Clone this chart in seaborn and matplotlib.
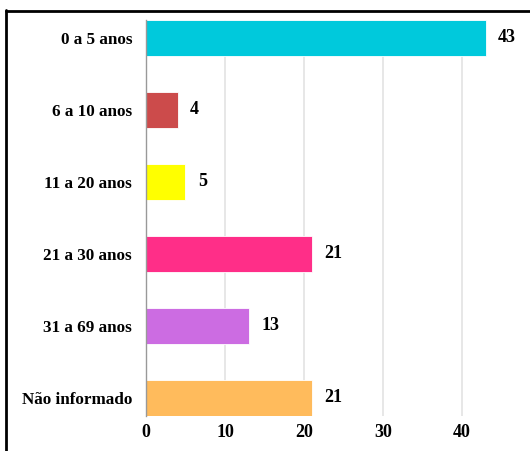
import matplotlib
matplotlib.use("Agg")
import matplotlib.pyplot as plt
import seaborn as sns
import pandas as pd
from matplotlib.lines import Line2D

categories = ["0 a 5 anos", "6 a 10 anos", "11 a 20 anos", "21 a 30 anos", "31 a 69 anos", "Não informado"]
values = [43, 4, 5, 21, 13, 21]
colors = ["#00c9dc", "#cc4b4b", "#ffff00", "#ff2e88", "#cc6ce2", "#ffbb5c"]
xticks = [0, 10, 20, 30, 40]

sns.set_theme(style="white")
plt.rcParams["font.family"] = ["Liberation Serif", "DejaVu Serif"]
plt.rcParams["font.weight"] = "bold"

df = pd.DataFrame({"cat": categories, "val": values})

fig = plt.figure(figsize=(5.3, 4.51), dpi=100)
ax = fig.add_axes([146/530, 1-416/451, (525-146)/530, (416-20)/451])

sns.barplot(data=df, x="val", y="cat", hue="cat", palette=colors, legend=False,
            saturation=1, width=0.5, ax=ax, orient="h", edgecolor="white",
            linewidth=0.6, zorder=3)

ax.set_xlim(0, 48)
ax.set_ylim(5.25, -0.25)
ax.set_xticks(xticks)
ax.set_xticklabels([str(t) for t in xticks])
ax.xaxis.grid(True, color="#e3e3e3", linewidth=1.2, zorder=0)
ax.set_axisbelow(True)
for s in ["top", "right", "bottom"]:
    ax.spines[s].set_visible(False)
ax.spines["left"].set_color("#999999")
ax.spines["left"].set_linewidth(1)
ax.spines["left"].set_zorder(4)
ax.set_xlabel("")
ax.set_ylabel("")
ax.tick_params(axis="y", length=0, pad=10, labelsize=12.3)
ax.tick_params(axis="x", length=0, pad=6, labelsize=13)
for lab in ax.get_xticklabels() + ax.get_yticklabels():
    lab.set_fontweight("bold")
    lab.set_color("black")

for i, v in enumerate(values):
    ax.annotate(str(v), (v, i), xytext=(9, 0), textcoords="offset points",
                ha="left", va="center", fontsize=13, fontweight="bold", color="black")

# frame lines (top and left) around figure
fig.add_artist(Line2D([6/530, 6/530], [0, 1-10/451], transform=fig.transFigure, color="black", linewidth=2))
fig.add_artist(Line2D([6/530, 1], [1-11/451, 1-11/451], transform=fig.transFigure, color="black", linewidth=2))

fig.savefig("out.png", dpi=100)
